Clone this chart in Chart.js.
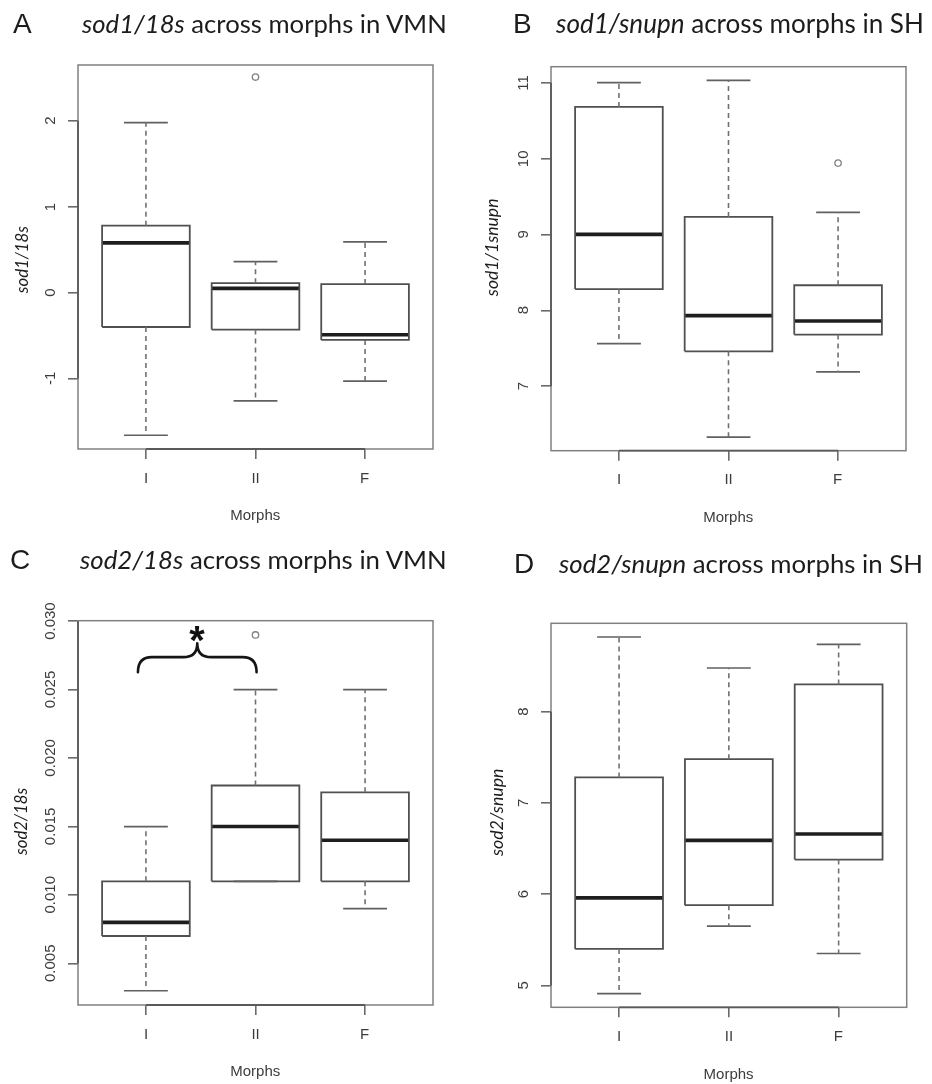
<!DOCTYPE html>
<html>
<head>
<meta charset="utf-8">
<script src="https://cdn.jsdelivr.net/npm/chart.js@4.4.1/dist/chart.umd.min.js"></script>
<style>
html,body{margin:0;padding:0;background:#fff;}
body{width:932px;height:1084px;position:relative;overflow:hidden;}
canvas{position:absolute;z-index:1;}
.ttl{position:absolute;white-space:nowrap;color:#1c1c1c;line-height:1;z-index:2;}
</style>
</head>
<body>
<canvas id="cA" width="466" height="540" style="left:0;top:0"></canvas>
<canvas id="cB" width="466" height="540" style="left:466px;top:0"></canvas>
<canvas id="cC" width="466" height="544" style="left:0;top:540px"></canvas>
<canvas id="cD" width="466" height="544" style="left:466px;top:540px"></canvas>
<script>
// ---------------- DATA ----------------
const categories = ['I', 'II', 'F'];
const xAxisTitle = 'Morphs';

// Panel A: sod1/18s across morphs in VMN
const aLow      = [-1.66, -1.26, -1.03];
const aQ1       = [-0.40, -0.43, -0.55];
const aMedian   = [ 0.58,  0.05, -0.49];
const aQ3       = [ 0.78,  0.11,  0.10];
const aHigh     = [ 1.98,  0.36,  0.59];
const aOutliers = [[1, 2.51]];            // [category index, value]
const aYTicks   = ['-1', '0', '1', '2'];

// Panel B: sod1/snupn across morphs in SH
const bLow      = [ 7.56,  6.33, 7.19];
const bQ1       = [ 8.28,  7.46, 7.68];
const bMedian   = [ 9.00,  7.93, 7.86];
const bQ3       = [10.68,  9.23, 8.33];
const bHigh     = [11.00, 11.03, 9.29];
const bOutliers = [[2, 9.94]];
const bYTicks   = ['7', '8', '9', '10', '11'];

// Panel C: sod2/18s across morphs in VMN
const cLow      = [0.003, 0.011, 0.009];
const cQ1       = [0.007, 0.011, 0.011];
const cMedian   = [0.008, 0.015, 0.014];
const cQ3       = [0.011, 0.018, 0.0175];
const cHigh     = [0.015, 0.025, 0.025];
const cOutliers = [[1, 0.029]];
const cYTicks   = ['0.005', '0.010', '0.015', '0.020', '0.025', '0.030'];
const cSignificance = { from: 0, to: 1, label: '*' };   // I vs II

// Panel D: sod2/snupn across morphs in SH
const dLow      = [4.91, 5.65, 5.35];
const dQ1       = [5.40, 5.88, 6.38];
const dMedian   = [5.96, 6.59, 6.66];
const dQ3       = [7.28, 7.48, 8.30];
const dHigh     = [8.82, 8.48, 8.74];
const dOutliers = [];
const dYTicks   = ['5', '6', '7', '8'];

const panelLetters = ['A', 'B', 'C', 'D'];
const titleItalic  = ['sod1/18s', 'sod1/snupn', 'sod2/18s', 'sod2/snupn'];
const titleRest    = [' across morphs in VMN', ' across morphs in SH', ' across morphs in VMN', ' across morphs in SH'];
const yAxisTitles  = ['sod1/18s', 'sod1/1snupn', 'sod2/18s', 'sod2/snupn'];

// ---------------- LAYOUT / STYLE ----------------
const RFONT = '"Liberation Sans", Arial, sans-serif';
const TFONT = 'Lato, "Open Sans", sans-serif';
const BOX_HALF = 0.4, CAP_HALF = 0.2;

const panels = [
  { id:'cA', low:aLow, q1:aQ1, med:aMedian, q3:aQ3, high:aHigh, out:aOutliers, yTicks:aYTicks,
    yMin:-1.82, yMax:2.65, yW:78, padR:33, padT:65, xH:91,
    yTitle:{x:22, y:260, len:67},
    title:{letterLeft:13, left:82, right:447, base:33} },
  { id:'cB', low:bLow, q1:bQ1, med:bMedian, q3:bQ3, high:bHigh, out:bOutliers, yTicks:bYTicks,
    yMin:6.15, yMax:11.21, yW:85, padR:26, padT:66.7, xH:89.3,
    yTitle:{x:26.7, y:248, len:97},
    title:{letterLeft:513, left:556, right:924, base:33} },
  { id:'cC', low:cLow, q1:cQ1, med:cMedian, q3:cQ3, high:cHigh, out:cOutliers, yTicks:cYTicks,
    yMin:0.00196, yMax:0.03004, yW:78, padR:33, padT:80.7, xH:79,
    yTitle:{x:20.7, y:281.7, len:67}, sig:cSignificance,
    title:{letterLeft:10, left:80, right:447, base:569} },
  { id:'cD', low:dLow, q1:dQ1, med:dMedian, q3:dQ3, high:dHigh, out:dOutliers, yTicks:dYTicks,
    yMin:4.76, yMax:8.97, yW:85, padR:25.3, padT:83.3, xH:76.7,
    yTitle:{x:31.7, y:273, len:87},
    title:{letterLeft:514, left:559, right:923, base:573} }
];

function seg(points, color, width, dash) {
  return { type:'scatter', showLine:true, data: points.map(p => ({x:p[0], y:p[1]})),
           borderColor:color, borderWidth:width, borderDash:dash || [], pointRadius:0,
           fill:false, tension:0, borderCapStyle:'butt', borderJoinStyle:'miter' };
}

function centeredText(ctx, text, cx, cy) {
  const m = ctx.measureText(text);
  const w = m.actualBoundingBoxLeft + m.actualBoundingBoxRight;
  const x = cx - w / 2 + m.actualBoundingBoxLeft;
  const y = cy + (m.actualBoundingBoxAscent - m.actualBoundingBoxDescent) / 2;
  ctx.textAlign = 'left'; ctx.textBaseline = 'alphabetic';
  ctx.fillText(text, x, y);
}

const rPlugin = {
  id: 'rStyle',
  beforeDatasetsDraw(chart) {
    const {ctx, chartArea:a, scales:{x, y}} = chart;
    ctx.save();
    ctx.strokeStyle = '#808080'; ctx.lineWidth = 1.5;
    ctx.strokeRect(a.left, a.top, a.right - a.left, a.bottom - a.top);
    // R axis lines spanning first..last tick
    ctx.strokeStyle = '#5a5a5a'; ctx.lineWidth = 1.8;
    ctx.beginPath();
    ctx.moveTo(x.getPixelForValue(x.ticks[0].value), a.bottom);
    ctx.lineTo(x.getPixelForValue(x.ticks[x.ticks.length-1].value), a.bottom);
    ctx.moveTo(a.left, y.getPixelForValue(y.ticks[0].value));
    ctx.lineTo(a.left, y.getPixelForValue(y.ticks[y.ticks.length-1].value));
    ctx.stroke();
    ctx.restore();
  },
  afterDraw(chart, args, opts) {
    const {ctx, chartArea:a, scales:{x, y}} = chart;
    ctx.save();
    ctx.fillStyle = '#3c3c3c';
    ctx.font = '15px ' + RFONT;
    y.ticks.forEach(t => {
      ctx.save();
      ctx.translate(a.left - 28, y.getPixelForValue(t.value));
      ctx.rotate(-Math.PI / 2);
      centeredText(ctx, t.label, 0, 0);
      ctx.restore();
    });
    x.ticks.forEach(t => centeredText(ctx, categories[t.value - 1], x.getPixelForValue(t.value), a.bottom + 28.7));
    ctx.font = '15px ' + RFONT;
    centeredText(ctx, xAxisTitle, (a.left + a.right) / 2, a.bottom + 67.2);
    // y axis title (italic), fitted to its length
    const yt = opts.yTitle;
    ctx.fillStyle = '#1c1c1c';
    ctx.font = 'italic 100px ' + TFONT;
    let m = ctx.measureText(opts.text);
    const fs = 100 * yt.len / (m.actualBoundingBoxLeft + m.actualBoundingBoxRight);
    ctx.font = 'italic ' + fs.toFixed(2) + 'px ' + TFONT;
    ctx.save();
    ctx.translate(yt.x, yt.y);
    ctx.rotate(-Math.PI / 2);
    centeredText(ctx, opts.text, 0, 0);
    ctx.restore();
    // significance bracket
    if (opts.sig) {
      const s = opts.sig;
      const L = x.getPixelForValue(s.from + 1 - 0.073);
      const R = x.getPixelForValue(s.to + 1 + 0.01);
      const M = (L + R) / 2;
      const yEnd = y.getPixelForValue(0.02628);
      const yBar = y.getPixelForValue(0.02738);
      const yTip = y.getPixelForValue(0.02838);
      const r = 14;
      ctx.strokeStyle = '#151515'; ctx.lineWidth = 2.6; ctx.lineCap = 'round';
      ctx.beginPath();
      ctx.moveTo(L, yEnd); ctx.quadraticCurveTo(L, yBar, L + r, yBar);
      ctx.lineTo(M - r, yBar); ctx.quadraticCurveTo(M, yBar, M, yTip);
      ctx.moveTo(R, yEnd); ctx.quadraticCurveTo(R, yBar, R - r, yBar);
      ctx.lineTo(M + r, yBar); ctx.quadraticCurveTo(M, yBar, M, yTip);
      ctx.stroke();
      ctx.fillStyle = '#111';
      ctx.font = 'bold 100px ' + RFONT;
      m = ctx.measureText(s.label);
      const afs = 100 * 15.5 / (m.actualBoundingBoxLeft + m.actualBoundingBoxRight);
      ctx.font = 'bold ' + afs.toFixed(2) + 'px ' + RFONT;
      centeredText(ctx, s.label, M, y.getPixelForValue(0.0291));
    }
    ctx.restore();
  }
};

function makePanel(p, idx) {
  const ds = [];
  const whisk = '#707070', boxc = '#505050';
  categories.forEach((c, i) => {
    const x = i + 1;
    ds.push(seg([[x, p.q3[i]], [x, p.high[i]]], whisk, 1.6, [5, 4]));
    ds.push(seg([[x, p.q1[i]], [x, p.low[i]]], whisk, 1.6, [5, 4]));
    ds.push(seg([[x - CAP_HALF, p.high[i]], [x + CAP_HALF, p.high[i]]], '#606060', 1.7));
    ds.push(seg([[x - CAP_HALF, p.low[i]], [x + CAP_HALF, p.low[i]]], '#606060', 1.7));
    ds.push(seg([[x - BOX_HALF, p.q1[i]], [x + BOX_HALF, p.q1[i]], [x + BOX_HALF, p.q3[i]],
                 [x - BOX_HALF, p.q3[i]], [x - BOX_HALF, p.q1[i]]], boxc, 1.8));
    ds.push(seg([[x - BOX_HALF, p.med[i]], [x + BOX_HALF, p.med[i]]], '#1e1e1e', 3.6));
  });
  ds.push({ type:'scatter', data: p.out.map(o => ({x:o[0] + 1, y:o[1]})), showLine:false,
            pointRadius:3.2, pointBorderWidth:1.3, pointBorderColor:'#808080', pointBackgroundColor:'#fff' });

  const grid = { display:true, drawOnChartArea:false, drawTicks:true, tickLength:10, color:'#6a6a6a', lineWidth:1.6 };
  new Chart(document.getElementById(p.id), {
    type: 'scatter',
    data: { datasets: ds },
    plugins: [rPlugin],
    options: {
      responsive:false, animation:false, devicePixelRatio:1,
      events: [],
      layout: { padding: { left:0, right:p.padR, top:p.padT, bottom:0 } },
      plugins: { legend:{display:false}, tooltip:{enabled:false},
                 rStyle: { text: yAxisTitles[idx], yTitle: p.yTitle, sig: p.sig || null } },
      scales: {
        x: { type:'linear', min:0.38, max:3.62,
             afterBuildTicks: s => { s.ticks = categories.map((c, i) => ({ value: i + 1 })); },
             afterFit: s => { s.height = p.xH; },
             ticks: { display:false }, grid: grid, border: { display:false } },
        y: { type:'linear', min:p.yMin, max:p.yMax,
             afterBuildTicks: s => { s.ticks = p.yTicks.map(t => ({ value: Number(t) })); },
             afterTickToLabelConversion: s => { s.ticks.forEach((t, i) => { t.label = p.yTicks[i]; }); },
             afterFit: s => { s.width = p.yW; },
             ticks: { display:false }, grid: grid, border: { display:false } }
      }
    }
  });
}

function placeText(el, left, baseline, fitWidth) {
  el.style.left = left + 'px'; el.style.top = '0px';
  document.body.appendChild(el);
  if (fitWidth) {
    const w0 = el.getBoundingClientRect().width;
    const fs = parseFloat(el.style.fontSize);
    el.style.fontSize = (fs * fitWidth / w0).toFixed(2) + 'px';
  }
  const mk = document.createElement('span');
  mk.style.cssText = 'display:inline-block;width:0;height:0;vertical-align:baseline;';
  el.appendChild(mk);
  const base = mk.getBoundingClientRect().bottom - el.getBoundingClientRect().top;
  el.style.top = (baseline - base).toFixed(2) + 'px';
}

panels.forEach((p, idx) => {
  makePanel(p, idx);
  const L = document.createElement('div');
  L.className = 'ttl';
  L.style.fontFamily = RFONT; L.style.fontSize = '28px';
  L.textContent = panelLetters[idx];
  placeText(L, p.title.letterLeft, p.title.base, 0);

  const T = document.createElement('div');
  T.className = 'ttl';
  T.style.fontFamily = TFONT; T.style.fontSize = '24px';
  const it = document.createElement('i'); it.textContent = titleItalic[idx];
  T.appendChild(it);
  T.appendChild(document.createTextNode(titleRest[idx]));
  placeText(T, p.title.left, p.title.base, p.title.right - p.title.left);
});
</script>
</body>
</html>
